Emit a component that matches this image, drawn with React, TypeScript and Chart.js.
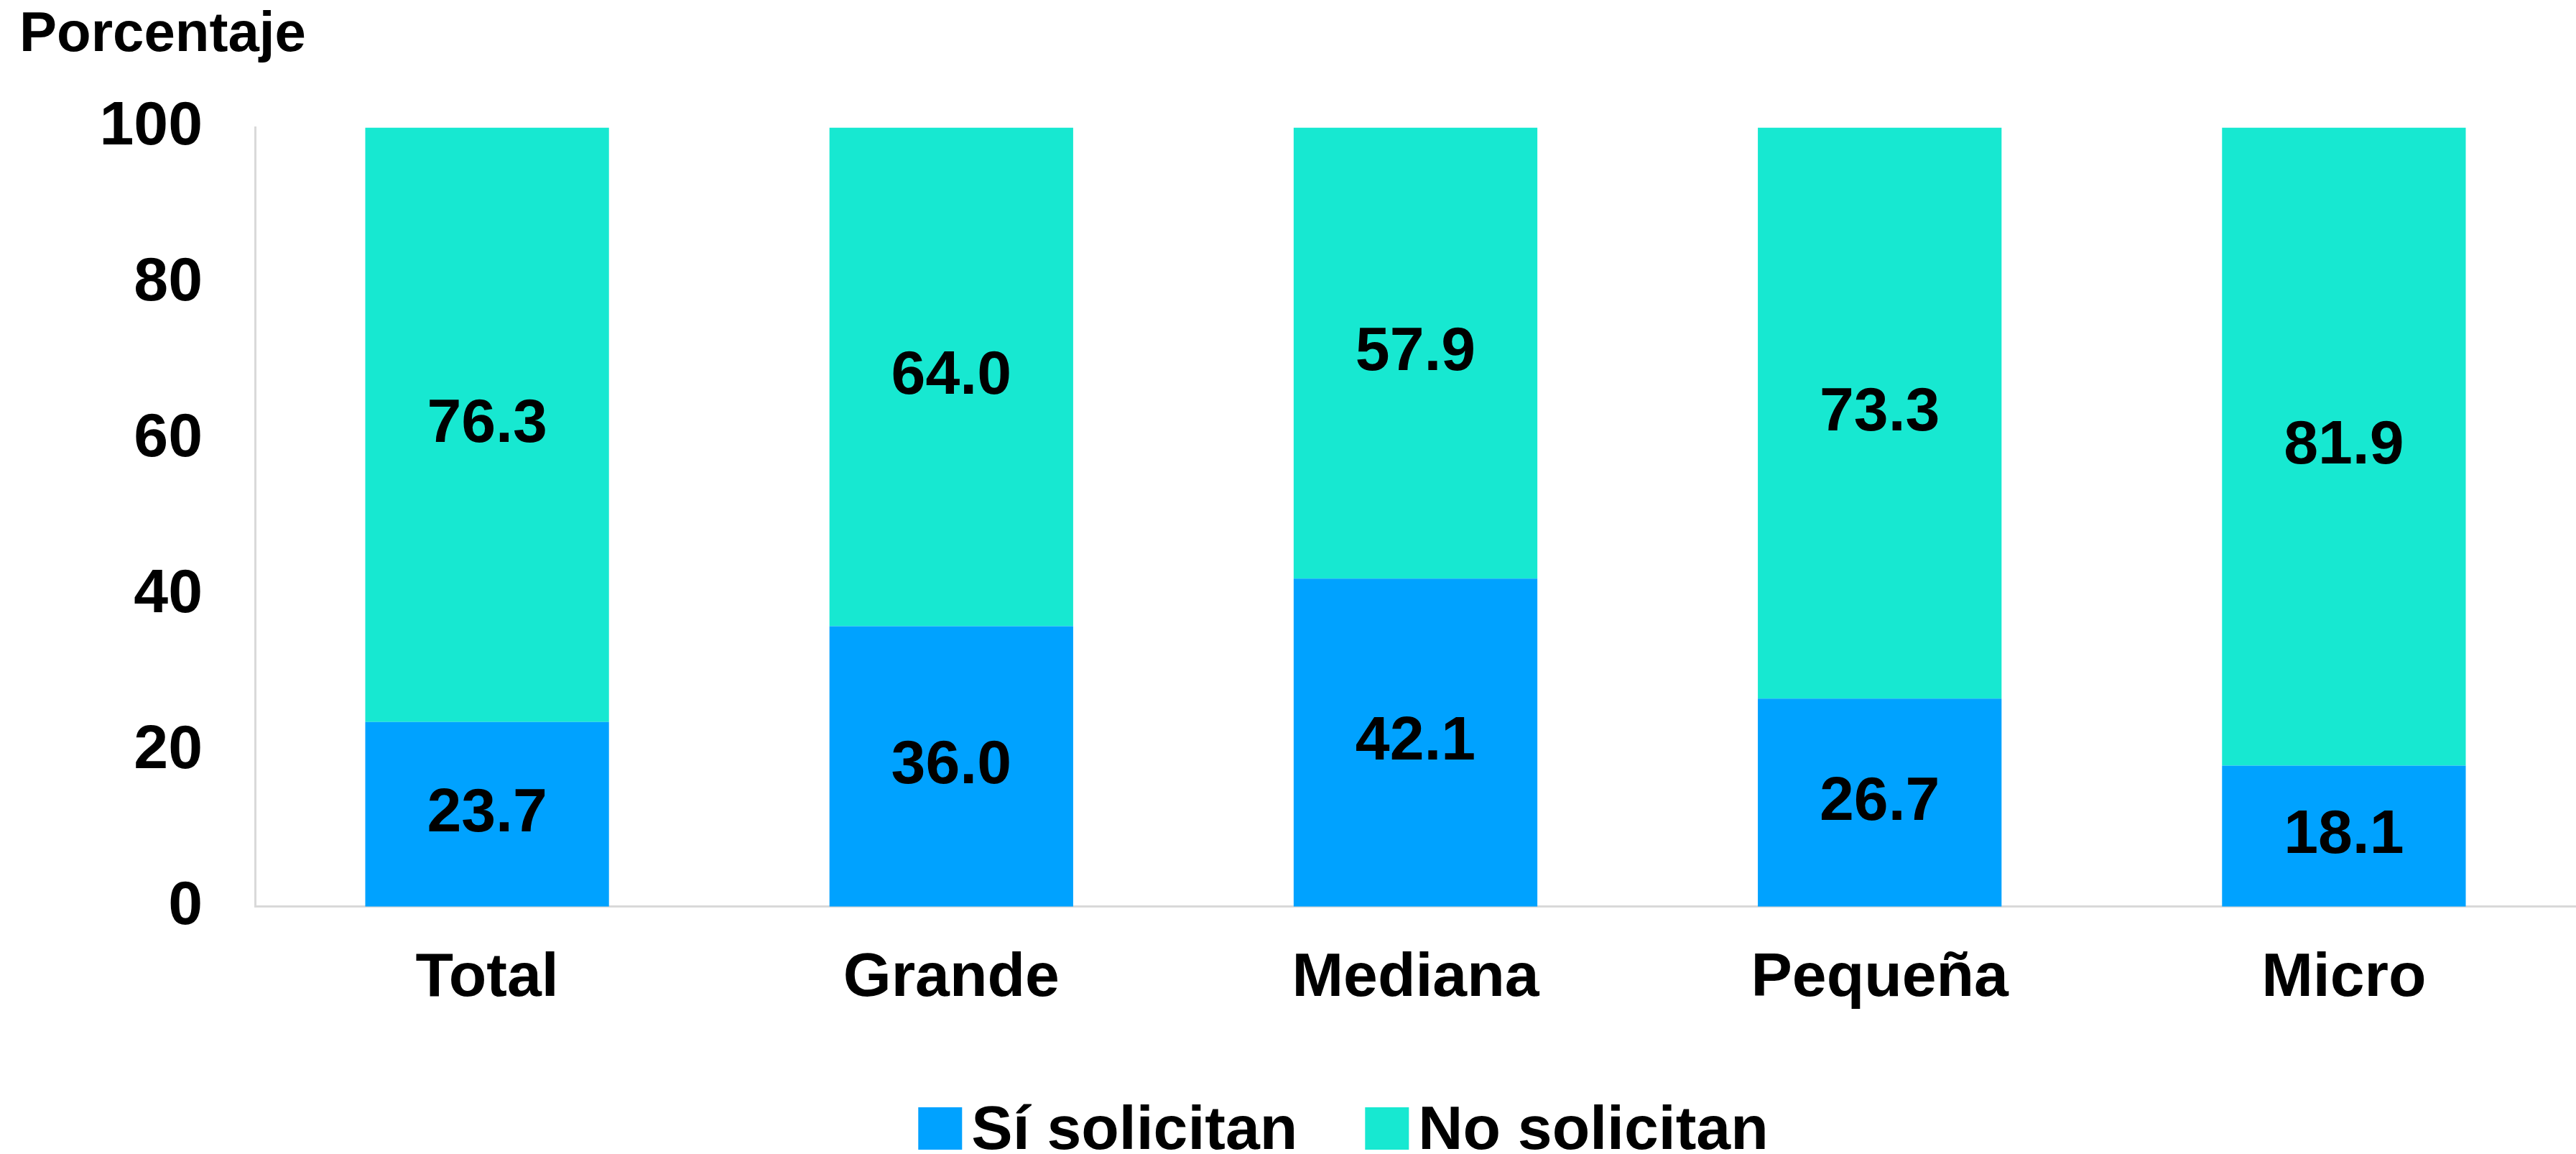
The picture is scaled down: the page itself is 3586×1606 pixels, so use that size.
import React, { useEffect, useRef } from 'react';
import { Chart, registerables } from 'chart.js';

Chart.register(...registerables);

const categories = ['Total', 'Grande', 'Mediana', 'Pequeña', 'Micro'];
const siSolicitan = [23.7, 36.0, 42.1, 26.7, 18.1];
const noSolicitan = [76.3, 64.0, 57.9, 73.3, 81.9];
const seriesLabels = ['Sí solicitan', 'No solicitan'];
const seriesColors = ['#00A2FF', '#17E8D1'];
const yTickValues = [0, 20, 40, 60, 80, 100];
const axisTitle = 'Porcentaje';

const FONT = '"Liberation Sans", Arial, sans-serif';
const W = 3586;
const H = 1606;

const dataLabelPlugin = {
  id: 'dataLabels',
  afterDatasetsDraw(chart: any) {
    const ctx = chart.ctx;
    ctx.save();
    ctx.font = `bold 86px ${FONT}`;
    ctx.fillStyle = '#000';
    ctx.textAlign = 'center';
    ctx.textBaseline = 'middle';
    chart.data.datasets.forEach((ds: any, di: number) => {
      const meta = chart.getDatasetMeta(di);
      meta.data.forEach((bar: any, i: number) => {
        const { x, y, base } = bar.getProps(['x', 'y', 'base'], true);
        ctx.fillText(Number(ds.data[i]).toFixed(1), x, (y + base) / 2);
      });
    });
    ctx.restore();
  },
};

const legendPlugin = {
  id: 'customLegend',
  afterDraw(chart: any) {
    const ctx = chart.ctx;
    const BOX_W = 61;
    const BOX_H = 59;
    const GAP = 13;
    const ITEM_GAP = 94;
    const CX = 1870;
    ctx.save();
    ctx.font = `bold 86px ${FONT}`;
    ctx.textAlign = 'left';
    ctx.textBaseline = 'alphabetic';
    const items = chart.data.datasets.map((ds: any) => ({
      text: ds.label,
      color: ds.backgroundColor,
      w: ctx.measureText(ds.label).width,
    }));
    const total =
      items.reduce((s: number, it: any) => s + BOX_W + GAP + it.w, 0) +
      ITEM_GAP * (items.length - 1);
    let x = CX - total / 2;
    const boxTop = chart.height - 65;
    const baseline = chart.height - 7;
    items.forEach((it: any) => {
      ctx.fillStyle = it.color;
      ctx.fillRect(x, boxTop, BOX_W, BOX_H);
      ctx.fillStyle = '#000';
      ctx.fillText(it.text, x + BOX_W + GAP, baseline);
      x += BOX_W + GAP + it.w + ITEM_GAP;
    });
    ctx.restore();
  },
};

export default function App() {
  const canvasRef = useRef<HTMLCanvasElement | null>(null);

  useEffect(() => {
    if (!canvasRef.current) return;
    Chart.defaults.font.family = FONT;
    Chart.defaults.color = '#000';
    const chart = new Chart(canvasRef.current, {
      type: 'bar',
      data: {
        labels: categories,
        datasets: [
          {
            label: seriesLabels[0],
            data: siSolicitan,
            backgroundColor: seriesColors[0],
            borderWidth: 0,
          },
          {
            label: seriesLabels[1],
            data: noSolicitan,
            backgroundColor: seriesColors[1],
            borderWidth: 0,
          },
        ],
      },
      options: {
        animation: false,
        responsive: true,
        maintainAspectRatio: false,
        datasets: {
          bar: { barPercentage: 0.525, categoryPercentage: 1 },
        },
        layout: { padding: { left: 27, right: 0, top: 0, bottom: 143 } },
        plugins: {
          legend: { display: false },
          tooltip: { enabled: false },
          title: {
            display: true,
            text: axisTitle,
            align: 'start',
            color: '#000',
            font: { size: 78, weight: 'bold', family: FONT },
            padding: { top: 3, bottom: 81 },
          },
        },
        scales: {
          x: {
            stacked: true,
            z: 1,
            grid: { display: false, drawTicks: false },
            border: { display: true, color: '#D9D9D9', width: 3 },
            ticks: {
              color: '#000',
              padding: 49,
              font: { size: 86, weight: 'bold', family: FONT },
            },
          },
          y: {
            stacked: true,
            min: 0,
            max: 100,
            afterFit: (scale: any) => {
              scale.width = 328;
            },
            afterBuildTicks: (scale: any) => {
              scale.ticks = yTickValues.map((v) => ({ value: v }));
            },
            grid: { display: false, drawTicks: false },
            border: { display: true, color: '#D9D9D9', width: 3 },
            ticks: {
              color: '#000',
              padding: 73,
              font: { size: 86, weight: 'bold', family: FONT },
            },
          },
        },
      },
      plugins: [dataLabelPlugin, legendPlugin],
    });
    return () => chart.destroy();
  }, []);

  return (
    <div style={{ position: 'absolute', left: 0, top: 0, width: W, height: H, background: '#fff' }}>
      <canvas ref={canvasRef} />
    </div>
  );
}
